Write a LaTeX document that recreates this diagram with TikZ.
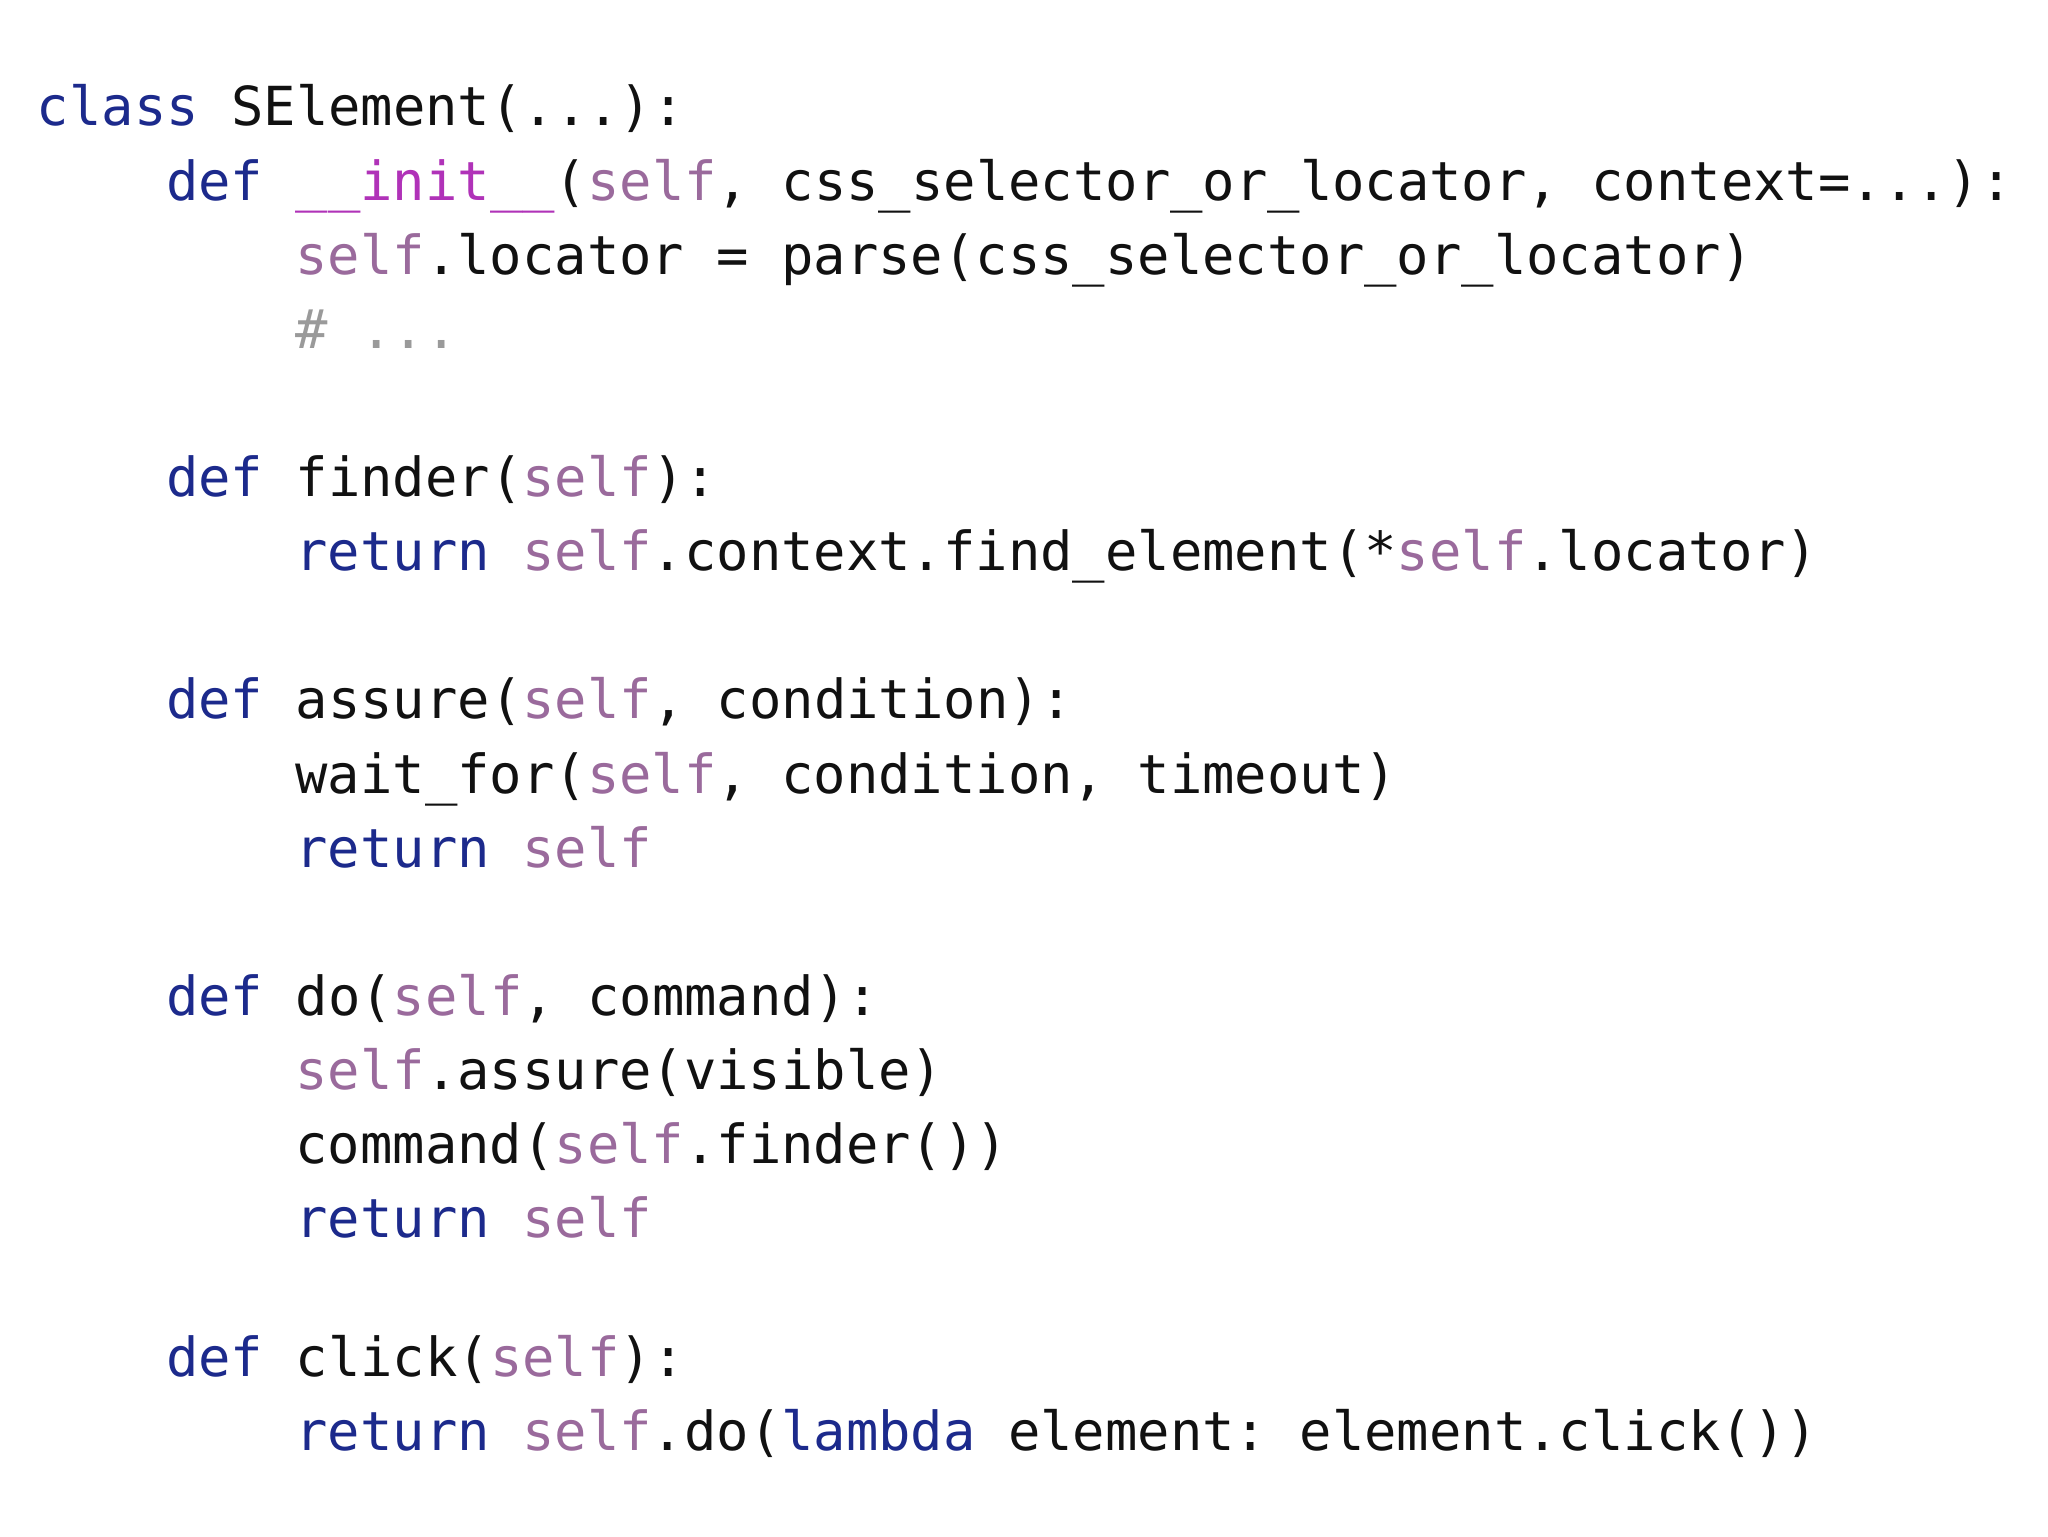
\documentclass[tikz,border=0pt]{standalone}
\usepackage{fontspec}
\setmonofont{DejaVu Sans Mono}
\definecolor{kw}{HTML}{1C2A8C}
\definecolor{sl}{HTML}{9A6A9C}
\definecolor{mg}{HTML}{B032B8}
\definecolor{cm}{HTML}{9A9A9A}
\definecolor{tx}{HTML}{111111}
\newcommand{\kwd}[1]{\textcolor{kw}{#1}}
\newcommand{\slf}{\textcolor{sl}{self}}
\newcommand{\mgt}[1]{\textcolor{mg}{#1}}
\begin{document}
\begin{tikzpicture}[x=1pt,y=1pt,
  code/.style={anchor=mid west,inner sep=0pt,font=\ttfamily\fontsize{41.2}{57}\selectfont,text=tx}]
\useasboundingbox[fill=white] (0,0) rectangle (1568,1176);
\def\la{28}\def\lb{127}\def\lc{226}
\def\dy{12}
\node[code] (l1) at (\la,1176-82-\dy) {\kwd{class} SElement(...):};
\node[code] (l2) at (\lb,1176-139-\dy) {\kwd{def} \mgt{\_\_init\_\_}(\slf, css\_selector\_or\_locator, context=...):};
\node[code] (l3) at (\lc,1176-196-\dy) {\slf.locator = parse(css\_selector\_or\_locator)};
\node[code] (l4) at (\lc,1176-253-\dy) {\textcolor{cm}{\# ...}};
\node[code] (l5) at (\lb,1176-366-\dy) {\kwd{def} finder(\slf):};
\node[code] (l6) at (\lc,1176-423-\dy) {\kwd{return} \slf.context.find\_element(*\slf.locator)};
\node[code] (l7) at (\lb,1176-536-\dy) {\kwd{def} assure(\slf, condition):};
\node[code] (l8) at (\lc,1176-593-\dy) {wait\_for(\slf, condition, timeout)};
\node[code] (l9) at (\lc,1176-650-\dy) {\kwd{return} \slf};
\node[code] (l10) at (\lb,1176-763-\dy) {\kwd{def} do(\slf, command):};
\node[code] (l11) at (\lc,1176-820-\dy) {\slf.assure(visible)};
\node[code] (l12) at (\lc,1176-877-\dy) {command(\slf.finder())};
\node[code] (l13) at (\lc,1176-933-\dy) {\kwd{return} \slf};
\node[code] (l14) at (\lb,1176-1040-\dy) {\kwd{def} click(\slf):};
\node[code] (l15) at (\lc,1176-1096-\dy) {\kwd{return} \slf.do(\kwd{lambda} element: element.click())};
\end{tikzpicture}
\end{document}
